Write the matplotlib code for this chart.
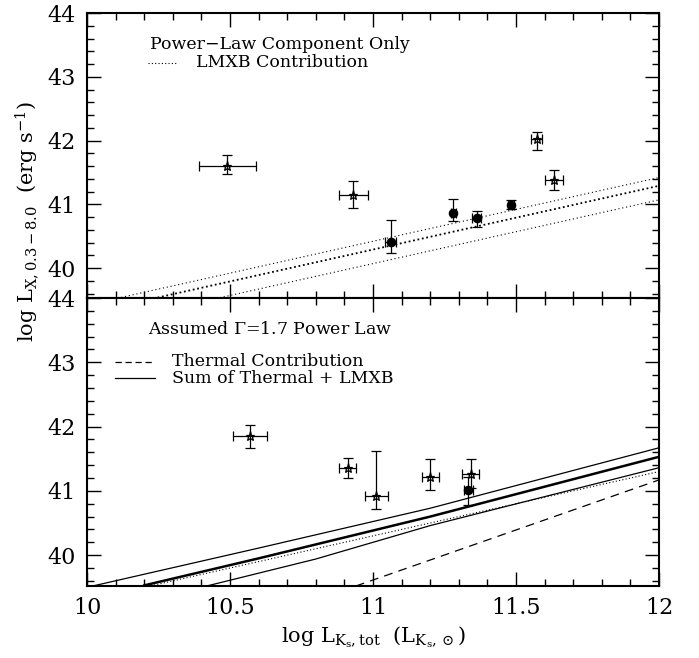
import matplotlib
matplotlib.use("Agg")
import matplotlib.pyplot as plt
from matplotlib.ticker import MultipleLocator, FormatStrFormatter

# --- top panel: power-law component only ---
top_star_x = [10.49, 10.931, 11.572, 11.633]
top_star_y = [41.60, 41.14, 42.02, 41.38]
top_star_xerr = [0.10, 0.05, 0.02, 0.03]
top_star_ylo = [0.13, 0.20, 0.17, 0.16]
top_star_yhi = [0.17, 0.22, 0.11, 0.16]

top_circ_x = [11.062, 11.281, 11.362, 11.482]
top_circ_y = [40.41, 40.86, 40.78, 40.99]
top_circ_xerr = [0.02, 0.01, 0.015, 0.01]
top_circ_ylo = [0.18, 0.12, 0.13, 0.07]
top_circ_yhi = [0.35, 0.22, 0.12, 0.08]

# LMXB contribution (central and bounds), endpoints
lmxb_x = [10.0, 12.0]
lmxb_mid = [39.29, 41.29]
lmxb_hi = [39.42, 41.42]
lmxb_lo = [39.07, 41.07]

# --- bottom panel: assumed Gamma=1.7 power law ---
bot_star_x = [10.57, 10.911, 11.012, 11.20, 11.342]
bot_star_y = [41.85, 41.36, 40.92, 41.21, 41.27]
bot_star_xerr = [0.06, 0.03, 0.04, 0.03, 0.03]
bot_star_ylo = [0.19, 0.16, 0.20, 0.20, 0.22]
bot_star_yhi = [0.18, 0.15, 0.70, 0.28, 0.22]

bot_circ_x = [11.333]
bot_circ_y = [41.01]
bot_circ_xerr = [0.015]
bot_circ_ylo = [0.23]
bot_circ_yhi = [0.20]

bot_lmxb_x = [10.2, 12.0]
bot_lmxb_y = [39.50, 41.30]
thermal_x = [10.94, 12.0]
thermal_y = [39.52, 41.17]
sum_hi_x = [10.0, 10.6, 11.2, 12.0]
sum_hi_y = [39.50, 40.11, 40.73, 41.67]
sum_mid_x = [10.2, 10.6, 11.2, 12.0]
sum_mid_y = [39.53, 39.95, 40.60, 41.53]
sum_lo_x = [10.4, 10.8, 11.2, 12.0]
sum_lo_y = [39.50, 39.94, 40.46, 41.36]

plt.rcParams["font.family"] = "DejaVu Serif"
plt.rcParams["mathtext.fontset"] = "dejavuserif"

fig = plt.figure(figsize=(6.99, 6.58), dpi=100)
ax1 = fig.add_axes([0.1245, 0.5471, 0.8183, 0.4331])
ax2 = fig.add_axes([0.1245, 0.1094, 0.8183, 0.4377])


def style_axes(ax, ylo):
    ax.set_xlim(10, 12)
    ax.set_ylim(ylo, 44)
    ax.xaxis.set_major_locator(MultipleLocator(0.5))
    ax.xaxis.set_minor_locator(MultipleLocator(0.1))
    ax.xaxis.set_major_formatter(FormatStrFormatter("%g"))
    ax.yaxis.set_major_locator(MultipleLocator(1))
    ax.yaxis.set_minor_locator(MultipleLocator(0.2))
    ax.tick_params(which="both", direction="in", top=True, right=True,
                   width=1.0, labelsize=16, pad=8)
    ax.tick_params(which="major", length=10)
    ax.tick_params(which="minor", length=5)
    for s in ax.spines.values():
        s.set_linewidth(1.5)


def points(ax, x, y, xerr, ylo, yhi, marker, ms, mfc):
    ax.errorbar(x, y, xerr=xerr, yerr=[ylo, yhi], fmt=marker, ms=ms,
                mfc=mfc, mec="black", mew=0.9, ecolor="black",
                elinewidth=0.9, capsize=3.5, capthick=0.9, zorder=3)


style_axes(ax1, 39.53)
style_axes(ax2, 39.52)
ax1.tick_params(labelbottom=False)

# top panel
ax1.plot(lmxb_x, lmxb_hi, color="black", ls=(0, (1, 2.5)), lw=0.8)
ax1.plot(lmxb_x, lmxb_mid, color="black", ls=(0, (1, 1.5)), lw=1.3)
ax1.plot(lmxb_x, lmxb_lo, color="black", ls=(0, (1, 2.5)), lw=0.8)
points(ax1, top_star_x, top_star_y, top_star_xerr, top_star_ylo, top_star_yhi,
       "*", 6.5, "none")
points(ax1, top_circ_x, top_circ_y, top_circ_xerr, top_circ_ylo, top_circ_yhi,
       "o", 6, "black")

ax1.text(0.110, 0.888, "Power\u2212Law Component Only", transform=ax1.transAxes,
         fontsize=12.5, va="center")
ax1.plot([0.107, 0.159], [0.825, 0.825], transform=ax1.transAxes,
         color="black", ls=(0, (1, 2)), lw=0.8)
ax1.text(0.191, 0.825, "LMXB Contribution", transform=ax1.transAxes,
         fontsize=12.5, va="center")

# bottom panel
ax2.plot(sum_hi_x, sum_hi_y, color="black", lw=0.9)
ax2.plot(sum_mid_x, sum_mid_y, color="black", lw=1.8)
ax2.plot(sum_lo_x, sum_lo_y, color="black", lw=0.9)
ax2.plot(bot_lmxb_x, bot_lmxb_y, color="black", ls=(0, (1, 2)), lw=0.8)
ax2.plot(thermal_x, thermal_y, color="black", ls=(0, (7, 5)), lw=0.9)
points(ax2, bot_star_x, bot_star_y, bot_star_xerr, bot_star_ylo, bot_star_yhi,
       "*", 6.5, "none")
points(ax2, bot_circ_x, bot_circ_y, bot_circ_xerr, bot_circ_ylo, bot_circ_yhi,
       "o", 6, "black")

ax2.text(0.107, 0.889, r"Assumed $\Gamma$=1.7 Power Law", transform=ax2.transAxes,
         fontsize=12.5, va="center")
ax2.plot([0.049, 0.119], [0.778, 0.778], transform=ax2.transAxes,
         color="black", ls=(0, (5, 3)), lw=0.9)
ax2.text(0.149, 0.778, "Thermal Contribution", transform=ax2.transAxes,
         fontsize=12.5, va="center")
ax2.plot([0.049, 0.119], [0.722, 0.722], transform=ax2.transAxes,
         color="black", lw=0.9)
ax2.text(0.149, 0.722, "Sum of Thermal + LMXB", transform=ax2.transAxes,
         fontsize=12.5, va="center")

fig.text(0.039, 0.663, r"log L$_{\rm X,0.3-8.0}$  (erg s$^{-1}$)", rotation=90,
         ha="center", va="center", fontsize=15)
fig.text(0.534, 0.032, r"log L$_{\rm K_s,tot}$  (L$_{\rm K_s,\odot}$)",
         ha="center", va="center", fontsize=15)

fig.savefig("out.png", dpi=100)
